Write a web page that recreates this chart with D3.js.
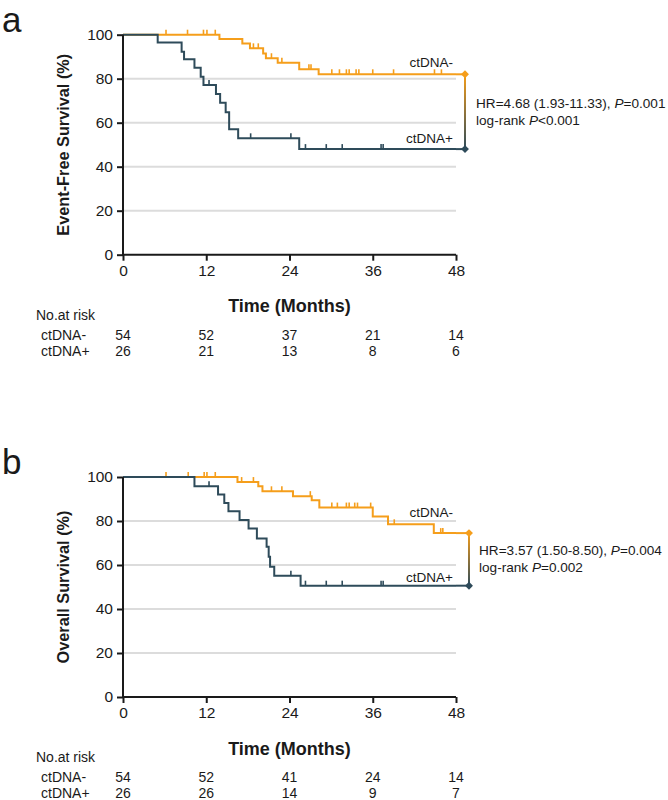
<!DOCTYPE html>
<html><head><meta charset="utf-8">
<script src="https://cdn.jsdelivr.net/npm/d3@7"></script>
<style>body{margin:0;background:#fff}svg{display:block;font-family:"Liberation Sans",Arial,sans-serif}</style>
</head><body><svg id="c" width="668" height="800"></svg>
<script>
// ---------- DATA ----------
const timeTicks = [0, 12, 24, 36, 48];
const survTicks = [0, 20, 40, 60, 80, 100];
const groups = ["ctDNA-", "ctDNA+"];

// Panel a: Event-Free Survival (step times in months, survival %)
const efsNegTime = [0, 13.9, 17.2, 18.3, 20.2, 20.6, 22.3, 25.4, 28.2];
const efsNegSurv = [100, 98.1, 96.0, 93.8, 91.5, 89.3, 87.3, 84.3, 82.0];
const efsNegCens = [6.2, 9.3, 11.6, 12.1, 13.3, 18.8, 19.5, 21.4, 22.9, 26.8, 27.1, 30.1, 31.2, 32.2, 32.6, 33.6, 34.0, 36.0, 39.0, 44.9, 45.9];
const efsPosTime = [0, 5.0, 8.45, 8.8, 10.3, 11.2, 11.6, 13.4, 14.0, 14.8, 15.3, 16.6, 25.4];
const efsPosSurv = [100, 96.4, 92.3, 88.8, 85.0, 80.9, 77.1, 73.0, 69.1, 64.7, 57.0, 52.9, 48.0];
const efsPosCens = [12.4, 18.4, 24.2, 26.3, 29.3, 31.6, 37.2, 37.5];
const efsRiskNeg = [54, 52, 37, 21, 14];
const efsRiskPos = [26, 21, 13, 8, 6];

// Panel b: Overall Survival
const osNegTime = [0, 16.5, 19.5, 20.1, 24.5, 27.2, 28.3, 36.0, 38.2, 44.8];
const osNegSurv = [100, 97.7, 95.8, 93.5, 91.3, 89.4, 86.1, 82.1, 78.5, 74.5];
const osNegCens = [6.2, 9.4, 11.7, 12.1, 13.3, 17.1, 18.8, 21.4, 22.9, 27.0, 30.1, 30.9, 32.2, 32.6, 33.4, 33.8, 35.7, 39.1, 45.8, 46.1];
const osPosTime = [0, 10.3, 13.7, 14.6, 15.2, 16.8, 18.1, 19.3, 20.7, 21.0, 21.2, 21.8, 25.6];
const osPosSurv = [100, 95.8, 92.1, 88.2, 84.4, 80.5, 76.6, 72.1, 68.3, 63.8, 59.2, 55.1, 50.6];
const osPosCens = [12.4, 24.2, 26.3, 29.3, 31.6, 37.2, 37.5];
const osRiskNeg = [54, 52, 41, 24, 14];
const osRiskPos = [26, 26, 14, 9, 7];

const panelLetters = ["a", "b"];
const yTitles = ["Event-Free Survival (%)", "Overall Survival (%)"];
const xTitle = "Time (Months)";
const riskTitle = "No.at risk";
const hrText = ["HR=4.68 (1.93-11.33), ", "HR=3.57 (1.50-8.50), "];
const hrP = ["=0.001", "=0.004"];
const lrP = ["<0.001", "=0.002"];
const labelLevels = [[85.2, 50.8], [81.8, 52.4]]; // % at which group labels sit

// ---------- DRAW ----------
const svg = d3.select("#c");
const colNeg = "#F59E1B", colPos = "#2E4B5A", ink = "#1a1a1a";
const x = d3.scaleLinear().domain([0, 48]).range([123, 456]);

const panels = [
  {top: 34.7, neg: [efsNegTime, efsNegSurv, efsNegCens], pos: [efsPosTime, efsPosSurv, efsPosCens], risk: [efsRiskNeg, efsRiskPos], bx: 465, tx: 476},
  {top: 477, neg: [osNegTime, osNegSurv, osNegCens], pos: [osPosTime, osPosSurv, osPosCens], risk: [osRiskNeg, osRiskPos], bx: 469, tx: 479}
];

const defs = svg.append("defs");
const grad = defs.append("linearGradient").attr("id", "gr").attr("x1", 0).attr("y1", 0).attr("x2", 0).attr("y2", 1);
grad.append("stop").attr("offset", "0%").attr("stop-color", colNeg);
grad.append("stop").attr("offset", "100%").attr("stop-color", colPos);

function stepAt(times, surv, t) {
  let v = surv[0];
  for (let i = 0; i < times.length; i++) if (times[i] <= t) v = surv[i];
  return v;
}

panels.forEach((p, pi) => {
  const bottom = p.top + 220;
  const y = d3.scaleLinear().domain([0, 100]).range([bottom, p.top]);
  const g = svg.append("g");

  // gridlines
  g.selectAll(".grid").data(survTicks.filter(v => v > 0 && v < 100)).join("line")
    .attr("x1", x(0)).attr("x2", x(48)).attr("y1", d => y(d)).attr("y2", d => y(d))
    .attr("stroke", "#dcdcdc").attr("stroke-width", 2);

  // curves
  [[p.neg, colNeg], [p.pos, colPos]].forEach(([d, col]) => {
    const [times, surv, cens] = d;
    const pts = times.map((t, i) => [t, surv[i]]);
    pts.push([48, surv[surv.length - 1]]);
    const line = d3.line().x(e => x(e[0])).y(e => y(e[1])).curve(d3.curveStepAfter);
    g.append("path").attr("d", line(pts)).attr("fill", "none").attr("stroke", col).attr("stroke-width", 2);
    g.selectAll(null).data(cens).join("line")
      .attr("x1", t => x(t)).attr("x2", t => x(t))
      .attr("y1", t => y(stepAt(times, surv, t))).attr("y2", t => y(stepAt(times, surv, t)) - 5)
      .attr("stroke", col).attr("stroke-width", 1.6);
  });

  // axes
  const yAxis = d3.axisLeft(y).tickValues(survTicks).tickSize(6).tickPadding(4);
  const ya = g.append("g").attr("transform", `translate(${x(0)},0)`).call(yAxis);
  const xAxis = d3.axisBottom(x).tickValues(timeTicks).tickSize(6).tickPadding(4);
  const xa = g.append("g").attr("transform", `translate(0,${bottom})`).call(xAxis);
  [ya, xa].forEach(a => {
    a.select(".domain").attr("stroke", ink).attr("stroke-width", 2);
    a.selectAll(".tick line").attr("stroke", ink).attr("stroke-width", 2);
    a.selectAll(".tick text").attr("fill", ink).attr("font-size", 15.5).attr("font-family", "Liberation Sans, Arial, sans-serif");
  });
  ya.select(".domain").attr("d", `M0,${bottom + 1}V${p.top}`);
  xa.select(".domain").attr("d", `M${x(0) - 1},0H${x(48)}`);

  // titles
  g.append("text").attr("transform", `translate(63,${(p.top + bottom) / 2}) rotate(-90)`)
    .attr("text-anchor", "middle").attr("dominant-baseline", "central")
    .attr("font-weight", "bold").attr("font-size", 16.3).attr("fill", ink).text(yTitles[pi]);
  g.append("text").attr("x", x(24)).attr("y", bottom + 57.5).attr("text-anchor", "middle")
    .attr("font-weight", "bold").attr("font-size", 18).attr("fill", ink).text(xTitle);
  g.append("text").attr("x", 2).attr("y", p.top - 3).attr("font-size", 35).attr("fill", ink).text(panelLetters[pi]);

  // group labels
  groups.forEach((name, gi) => {
    g.append("text").attr("x", 453).attr("y", y(labelLevels[pi][gi])).attr("text-anchor", "end")
      .attr("font-size", 13.5).attr("fill", ink).text(name);
  });

  // bracket
  const yTop = y(p.neg[1][p.neg[1].length - 1]);
  const yBot = y(p.pos[1][p.pos[1].length - 1]);
  g.append("line").attr("x1", x(48)).attr("x2", p.bx).attr("y1", yTop).attr("y2", yTop).attr("stroke", colNeg).attr("stroke-width", 2);
  g.append("line").attr("x1", x(48)).attr("x2", p.bx).attr("y1", yBot).attr("y2", yBot).attr("stroke", colPos).attr("stroke-width", 2);
  g.append("rect").attr("x", p.bx - 1).attr("y", yTop).attr("width", 2).attr("height", yBot - yTop).attr("fill", "url(#gr)");
  const sym = d3.symbol().type(d3.symbolDiamond2).size(40);
  g.append("path").attr("d", sym()).attr("transform", `translate(${p.bx},${yTop})`).attr("fill", colNeg);
  g.append("path").attr("d", sym()).attr("transform", `translate(${p.bx},${yBot})`).attr("fill", colPos);
  const mid = (yTop + yBot) / 2;
  const t1 = g.append("text").attr("x", p.tx).attr("y", mid - 4).attr("font-size", 13.6).attr("fill", ink);
  t1.append("tspan").text(hrText[pi]);
  t1.append("tspan").attr("font-style", "italic").text("P");
  t1.append("tspan").text(hrP[pi]);
  const t2 = g.append("text").attr("x", p.tx).attr("y", mid + 13).attr("font-size", 13.6).attr("fill", ink);
  t2.append("tspan").text("log-rank ");
  t2.append("tspan").attr("font-style", "italic").text("P");
  t2.append("tspan").text(lrP[pi]);

  // risk table
  g.append("text").attr("x", 36).attr("y", bottom + 65).attr("font-size", 14).attr("fill", ink).text(riskTitle);
  groups.forEach((name, gi) => {
    const yy = bottom + 85 + gi * 16.3;
    g.append("text").attr("x", 41).attr("y", yy).attr("font-size", 14).attr("fill", ink).text(name);
    g.selectAll(null).data(p.risk[gi]).join("text")
      .attr("x", (d, i) => x(timeTicks[i])).attr("y", yy).attr("text-anchor", "middle")
      .attr("font-size", 14).attr("fill", ink).text(d => d);
  });
});
</script></body></html>
